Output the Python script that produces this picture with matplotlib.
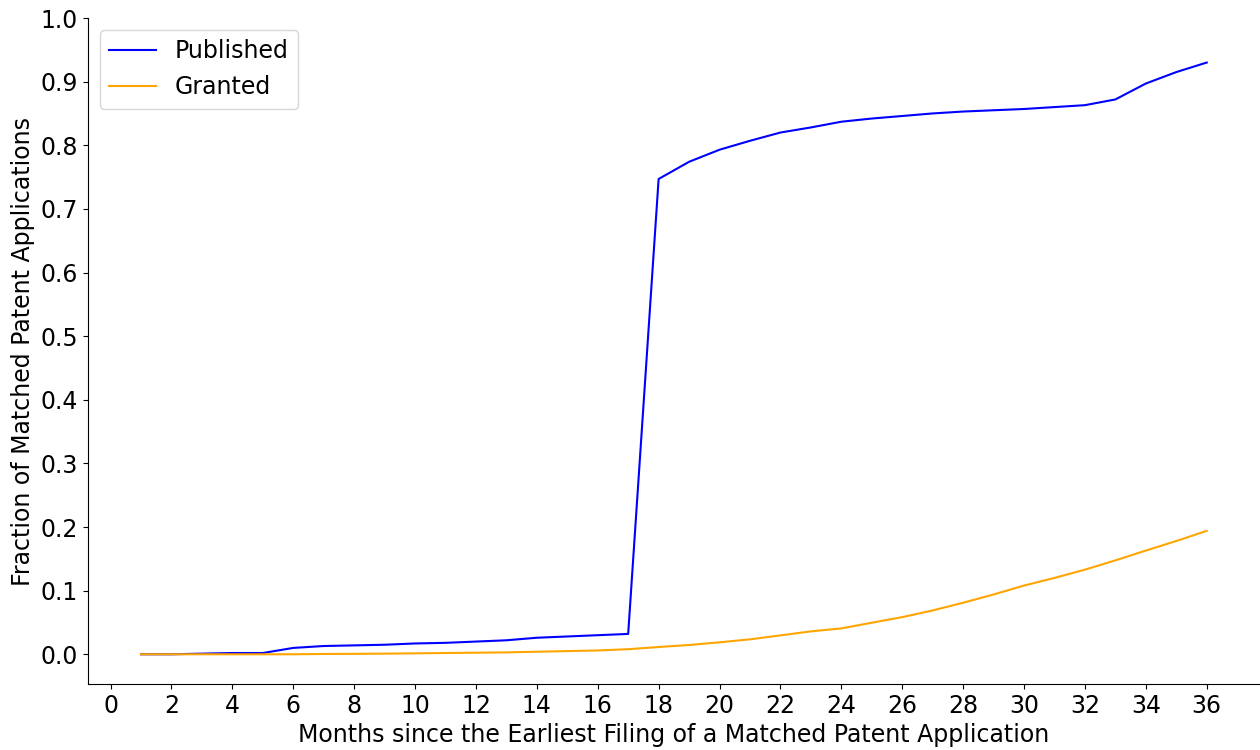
import matplotlib
matplotlib.use("Agg")
import matplotlib.pyplot as plt

months = list(range(1, 37))
published = [0.0, 0.0, 0.001, 0.002, 0.002, 0.010, 0.013, 0.014, 0.015, 0.017,
             0.018, 0.020, 0.022, 0.026, 0.028, 0.030, 0.032, 0.747, 0.774, 0.793,
             0.807, 0.820, 0.828, 0.837, 0.842, 0.846, 0.850, 0.853, 0.855, 0.857,
             0.860, 0.863, 0.872, 0.897, 0.915, 0.930]
granted = [0.0, 0.0, 0.0, 0.0, 0.0, 0.0, 0.0005, 0.0007, 0.001, 0.0015,
           0.002, 0.0025, 0.003, 0.004, 0.005, 0.006, 0.008, 0.0114, 0.0146, 0.0188,
           0.0235, 0.0297, 0.036, 0.0407, 0.0496, 0.0584, 0.0689, 0.081, 0.094, 0.108,
           0.120, 0.133, 0.1476, 0.163, 0.178, 0.194]
xticks = list(range(0, 37, 2))
yticks = [0.0, 0.1, 0.2, 0.3, 0.4, 0.5, 0.6, 0.7, 0.8, 0.9, 1.0]

fig = plt.figure(figsize=(12.6, 7.5), dpi=100)
ax = fig.add_axes([0.0696, 0.088, 0.9304, 0.888])
ax.plot(months, published, color="blue", lw=1.5, label="Published")
ax.plot(months, granted, color="orange", lw=1.5, label="Granted")
ax.set_xticks(xticks)
ax.set_yticks(yticks)
ax.set_xlim(-0.75, 37.75)
ax.set_ylim(-0.0467, 1.0)
ax.tick_params(labelsize=17)
ax.set_xlabel("Months since the Earliest Filing of a Matched Patent Application", fontsize=17)
ax.set_ylabel("Fraction of Matched Patent Applications", fontsize=17)
ax.spines["top"].set_visible(False)
ax.spines["right"].set_visible(False)
ax.legend(loc="upper left", fontsize=17)
fig.savefig("out.png", dpi=100)
